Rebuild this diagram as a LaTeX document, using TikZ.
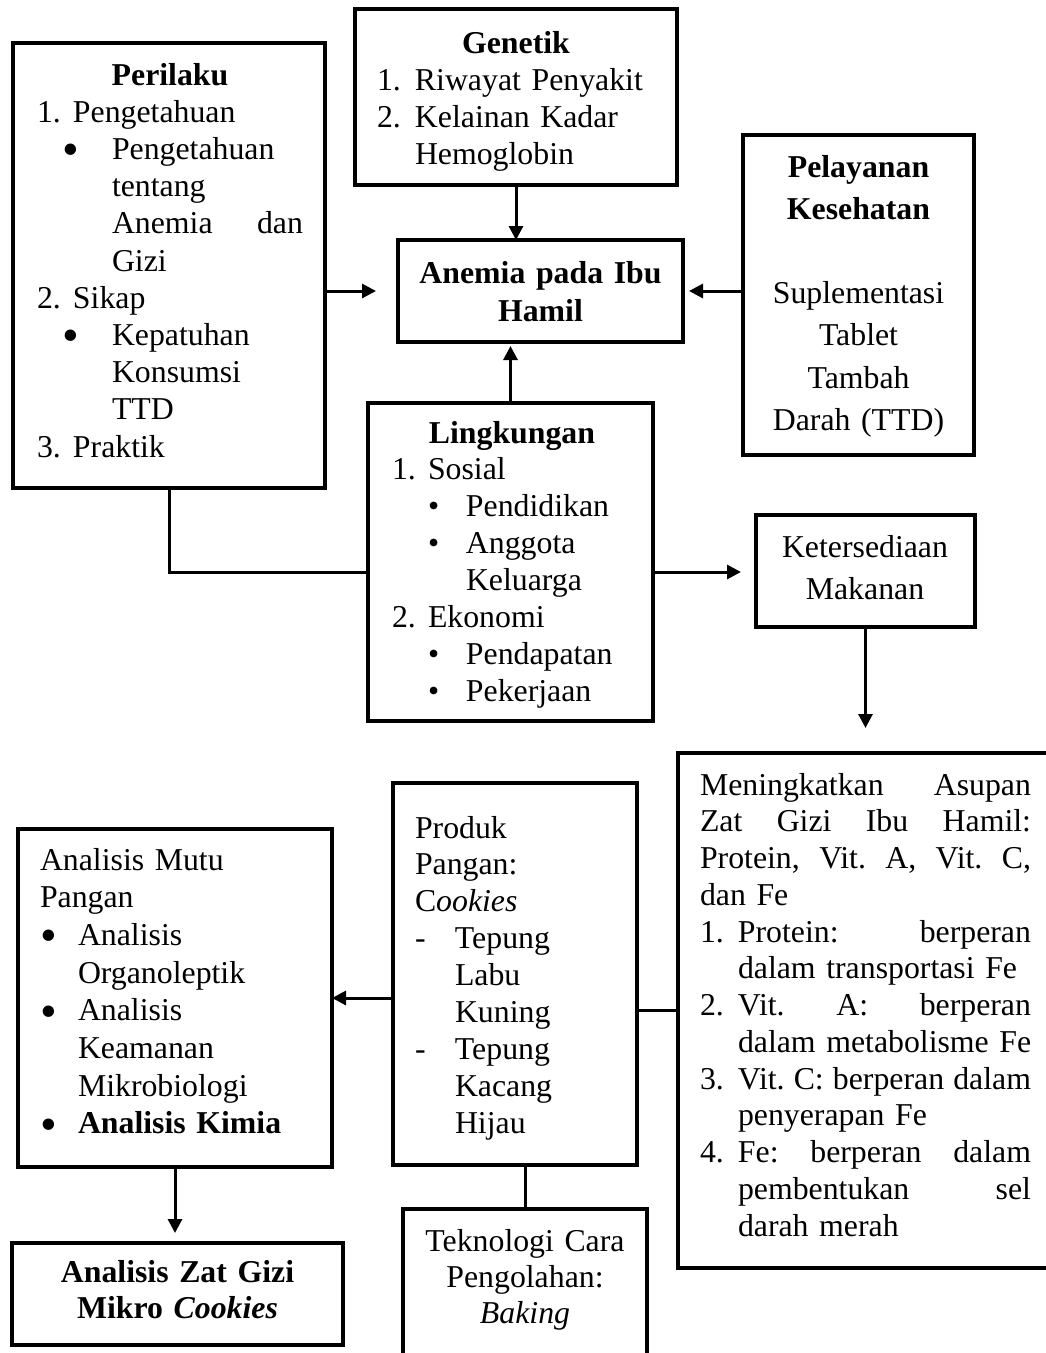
\documentclass[tikz,border=0pt]{standalone}
\usepackage{fontspec}
\setmainfont{Liberation Serif}
\usepackage{graphicx}
\usetikzlibrary{arrows.meta}
\newcommand{\fs}{\fontsize{31.8pt}{37.2pt}\selectfont}
\newcommand{\bigbul}{\raisebox{-0.2em}{\scalebox{1.5}{\textbullet}}}
\newcommand{\jb}[2]{\leavevmode\hbox to #1{#2}}
\begin{document}
\begin{tikzpicture}[x=1pt,y=-1pt,
  box/.style={draw, line width=3.4pt, anchor=north west, inner sep=0pt, outer sep=0pt},
  txt/.style={inner sep=0pt, outer sep=0pt, anchor=base west, align=left, font=\fs},
  ctr/.style={inner sep=0pt, outer sep=0pt, anchor=base, align=center, font=\fs},
  ln/.style={line width=3pt},
  arr/.style={line width=3pt, -{Triangle[length=14pt,width=14pt]}}]
\path[fill=white, use as bounding box] (0,0) rectangle (1046,1353);

% boxes
\node[box, minimum width=312pt, minimum height=445pt] (perilaku) at (13,43) {};
\node[box, minimum width=322pt, minimum height=176pt] (genetik) at (355,9) {};
\node[box, minimum width=285pt, minimum height=102pt] (anemia) at (398,240) {};
\node[box, minimum width=231pt, minimum height=320pt] (pelayanan) at (743,135) {};
\node[box, minimum width=285pt, minimum height=318pt] (lingkungan) at (368,403) {};
\node[box, minimum width=219pt, minimum height=112pt] (keters) at (756,515) {};
\node[box, minimum width=400pt, minimum height=515pt] (meningkat) at (678,753) {};
\node[box, minimum width=244pt, minimum height=382pt] (produk) at (393,783) {};
\node[box, minimum width=244pt, minimum height=200pt] (teknologi) at (403,1209) {};
\node[box, minimum width=314pt, minimum height=338pt] (mutu) at (18,829) {};
\node[box, minimum width=331pt, minimum height=102pt] (zatgizi) at (12,1243) {};

% texts
\node[txt, text width=266pt] (tperilaku) at (37,85) {%
\makebox[\linewidth]{\bfseries Perilaku}\\
\makebox[36pt][l]{1.}Pengetahuan\\
\hspace*{25pt}\makebox[50pt][l]{\bigbul}Pengetahuan\\
\hspace*{75pt}tentang\\
\hspace*{75pt}\jb{191pt}{Anemia\hfill dan}\\
\hspace*{75pt}Gizi\\
\makebox[36pt][l]{2.}Sikap\\
\hspace*{25pt}\makebox[50pt][l]{\bigbul}Kepatuhan\\
\hspace*{75pt}Konsumsi\\
\hspace*{75pt}TTD\\
\makebox[36pt][l]{3.}Praktik};

\node[txt, text width=278pt] (tgenetik) at (377,53) {%
\makebox[\linewidth]{\bfseries Genetik}\\
\makebox[38pt][l]{1.}Riwayat Penyakit\\
\makebox[38pt][l]{2.}Kelainan Kadar\\
\hspace*{38pt}Hemoglobin};

\node[ctr, text width=270pt, font=\fs\bfseries] (tanemia) at (540.5,283) {Anemia pada Ibu\\[1.5pt]Hamil};

\node[ctr, text width=225pt, font=\fontsize{31.8pt}{42.2pt}\selectfont] (tpelayanan) at (858.5,177) {%
{\bfseries Pelayanan\\Kesehatan}\\
\mbox{}\\
Suplementasi\\Tablet\\Tambah\\Darah (TTD)};

\node[txt, text width=240pt, font=\fontsize{31.8pt}{36.9pt}\selectfont] (tlingkungan) at (392,443) {%
\makebox[\linewidth]{\bfseries Lingkungan}\\
\makebox[36pt][l]{1.}Sosial\\
\hspace*{36pt}\makebox[38pt][l]{\textbullet}Pendidikan\\
\hspace*{36pt}\makebox[38pt][l]{\textbullet}Anggota\\
\hspace*{74pt}Keluarga\\
\makebox[36pt][l]{2.}Ekonomi\\
\hspace*{36pt}\makebox[38pt][l]{\textbullet}Pendapatan\\
\hspace*{36pt}\makebox[38pt][l]{\textbullet}Pekerjaan};

\node[ctr, text width=210pt, font=\fontsize{31.8pt}{42.5pt}\selectfont] (tketers) at (865,557) {Ketersediaan\\Makanan};

\node[txt, text width=345pt, font=\fontsize{31.8pt}{36.75pt}\selectfont] (tmeningkat) at (700,795) {%
\jb{331pt}{Meningkatkan\hfill Asupan}\\
\jb{331pt}{Zat\hfill Gizi\hfill Ibu\hfill Hamil:}\\
\jb{331pt}{Protein,\hfill Vit.\hfill A,\hfill Vit.\hfill C,}\\
dan Fe\\
\makebox[38pt][l]{1.}\jb{293pt}{Protein:\hfill berperan}\\
\hspace*{38pt}dalam transportasi Fe\\
\makebox[38pt][l]{2.}\jb{293pt}{Vit.\hfill A:\hfill berperan}\\
\hspace*{38pt}dalam metabolisme Fe\\
\makebox[38pt][l]{3.}\jb{293pt}{Vit.\hfill C:\hfill berperan\hfill dalam}\\
\hspace*{38pt}penyerapan Fe\\
\makebox[38pt][l]{4.}\jb{293pt}{Fe:\hfill berperan\hfill dalam}\\
\hspace*{38pt}\jb{293pt}{pembentukan\hfill sel}\\
\hspace*{38pt}darah merah};

\node[txt, text width=210pt, font=\fontsize{31.8pt}{36.9pt}\selectfont] (tproduk) at (415,838) {%
Produk\\
Pangan:\\
C\textit{ookies}\\
\makebox[40pt][l]{-}Tepung\\
\hspace*{40pt}Labu\\
\hspace*{40pt}Kuning\\
\makebox[40pt][l]{-}Tepung\\
\hspace*{40pt}Kacang\\
\hspace*{40pt}Hijau};

\node[ctr, text width=235pt, font=\fontsize{31.8pt}{36pt}\selectfont] (tteknologi) at (525,1251) {Teknologi Cara\\Pengolahan:\\\textit{Baking}};

\node[txt, text width=285pt, font=\fontsize{31.8pt}{37.7pt}\selectfont] (tmutu) at (40,870) {%
Analisis Mutu\\
Pangan\\
\makebox[38pt][l]{\bigbul}Analisis\\
\hspace*{38pt}Organoleptik\\
\makebox[38pt][l]{\bigbul}Analisis\\
\hspace*{38pt}Keamanan\\
\hspace*{38pt}Mikrobiologi\\
\makebox[38pt][l]{\bigbul}\textbf{Analisis Kimia}};

\node[ctr, text width=320pt, font=\fontsize{31.8pt}{36.5pt}\selectfont\bfseries] (tzatgizi) at (177.5,1282) {Analisis Zat Gizi\\Mikro \textit{Cookies}};

% connectors
\coordinate (yj) at (0,572);
\draw[arr] (genetik.south) -- (genetik.south |- anemia.north);
\draw[arr, shorten >=22pt] (perilaku.east |- anemia.west) -- (anemia.west);
\draw[arr, shorten >=6pt] (pelayanan.west |- anemia.east) -- (anemia.east);
\draw[arr, shorten >=4pt] (lingkungan.north) -- (lingkungan.north |- anemia.south);
\draw[ln] (perilaku.south) |- (lingkungan.west |- yj);
\draw[arr, shorten >=15pt] (lingkungan.east |- yj) -- (keters.west |- yj);
\draw[arr, shorten >=25pt] (keters.south) -- (keters.south |- meningkat.north);
\draw[ln] (produk.east |- meningkat.west) -- (meningkat.west);
\draw[arr] (produk.west |- mutu.east) -- (mutu.east);
\draw[ln] (teknologi.north |- produk.south) -- (teknologi.north);
\draw[arr, shorten >=10pt] (mutu.south) -- (mutu.south |- zatgizi.north);
\end{tikzpicture}
\end{document}
